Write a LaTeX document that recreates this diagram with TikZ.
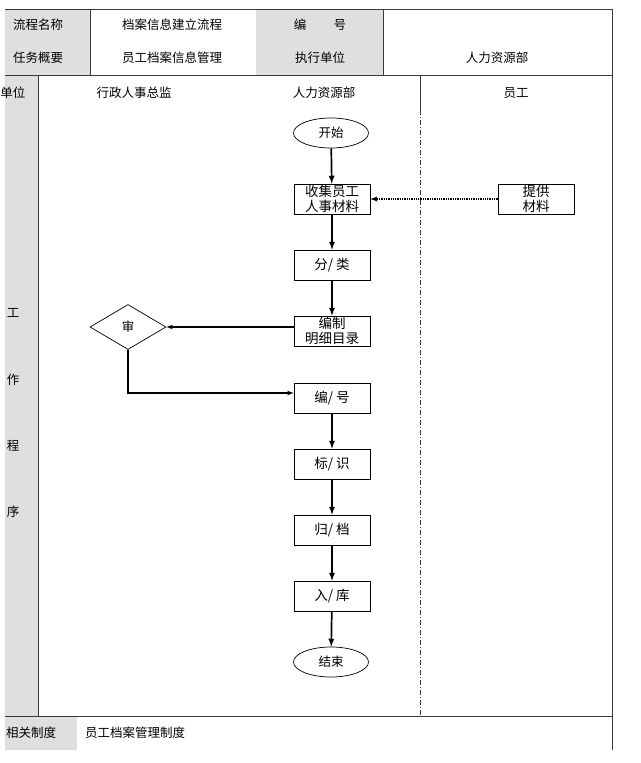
\documentclass[tikz,border=0pt]{standalone}
\usepackage{fontspec}
\setmainfont{Noto Sans CJK SC}
\usetikzlibrary{shapes.geometric, positioning}
\definecolor{cellgray}{HTML}{DEDFE0}
\definecolor{rulegray}{HTML}{3A3A3A}

\begin{document}
\begin{tikzpicture}[x=1pt, y=-1pt, font=\fontsize{12.5}{15}\selectfont]

        % Setup the styles for the table and the chart
        \tikzset{rule/.style={draw=rulegray, line width=0.9pt},
                 task/.style={rectangle, draw=black, line width=0.7pt,
                              minimum width=76pt, minimum height=30pt,
                              inner sep=0pt, align=center,
                              font=\fontsize{13.5}{15.5}\selectfont},
                 terminal/.style={ellipse, draw=black, line width=0.7pt,
                              minimum width=75pt, minimum height=30pt,
                              inner sep=0pt},
                 check/.style={diamond, draw=black, line width=0.7pt,
                              minimum width=76pt, minimum height=45pt,
                              inner sep=0pt},
                 flow/.style={->, >=latex, line width=1.7pt},
                 link/.style={->, >=latex, line width=1.1pt}}

        \useasboundingbox (0,0) rectangle (640,763);

        % Draw the table
        \fill[cellgray] (5,9) rectangle (90,75);
        \fill[cellgray] (256,9) rectangle (383,75);
        \fill[cellgray] (5,75) rectangle (38,716);
        \fill[cellgray] (5,716) rectangle (77,750);
        \draw[rule] (5,9) -- (612,9);
        \draw[rule] (5,75) -- (612,75);
        \draw[rule] (5,716) -- (612,716);
        \draw[rule] (612,9) -- (612,750);
        \draw[rule] (90,9) -- (90,75);
        \draw[rule] (383,9) -- (383,75);
        \draw[rule] (38,75) -- (38,716);
        \draw[rule] (420,75) -- (420,110);
        \draw[rule, line width=0.7pt, dash pattern=on 5pt off 2pt on 1pt off 2pt]
            (420,110) -- (420,716);

        % Table texts
        \node at (38,25)  (name)     {流程名称};
        \node at (172,25) (title)    {档案信息建立流程};
        \node at (320,25) (code)     {编\hspace{2.2em}号};
        \node at (38,58)  (summary)  {任务概要};
        \node at (172,58) (subject)  {员工档案信息管理};
        \node at (320,58) (unit)     {执行单位};
        \node at (497,58) (dept)     {人力资源部};
        \node at (13,93)  (lane)     {单位};
        \node at (134,93) (director) {行政人事总监};
        \node at (324,93) (hr)       {人力资源部};
        \node at (516,93) (staff)    {员工};
        \node at (13,313) (w1)       {工};
        \node at (13,380) (w2)       {作};
        \node at (13,446) (w3)       {程};
        \node at (13,512) (w4)       {序};
        \node at (31,733) (rules)    {相关制度};
        \node at (135,733) (policy)  {员工档案管理制度};

        % Draw the steps
        \node[terminal] at (331,133) (start)   {开始};
        \node[task]     at (332,199) (collect) {收集员工\\人事材料};
        \node[task]     at (332,265) (sort)    {分/ 类};
        \node[task]     at (332,331) (catalog) {编制\\明细目录};
        \node[task]     at (332,398) (number)  {编/ 号};
        \node[task]     at (332,464) (mark)    {标/ 识};
        \node[task]     at (332,530) (archive) {归/ 档};
        \node[task]     at (332,596) (store)   {入/ 库};
        \node[terminal] at (331,662) (finish)  {结束};
        \node[task]     at (536,199) (supply)  {提供\\材料};
        \node[check]    at (128,327) (judge)   {审};

        % Connect the steps with arrows
        \draw[flow] (start) -- (collect);
        \draw[flow] (collect) -- (sort);
        \draw[flow] (sort) -- (catalog);
        \draw[flow] (number) -- (mark);
        \draw[flow] (mark) -- (archive);
        \draw[flow] (archive) -- (store);
        \draw[flow] (store) -- (finish);
        \draw[flow, line width=1.3pt, densely dotted] (supply) -- (collect);
        \draw[link] (catalog.west |- judge.east) -- (judge.east);
        \draw[link] (judge.south) |- ([yshift=5pt]number.west);
    \end{tikzpicture}
\end{document}
